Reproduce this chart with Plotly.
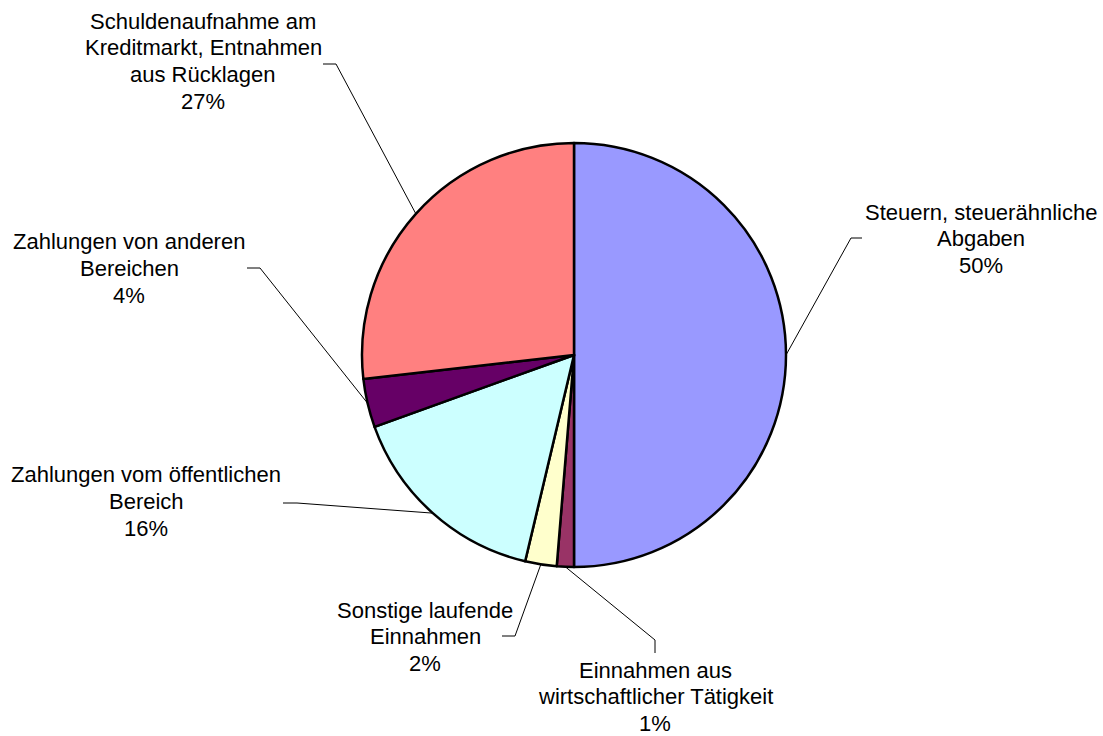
import math
import plotly.graph_objects as go

# slice data, clockwise from 12 o'clock
labels = [
    "Steuern, steuerähnliche Abgaben",
    "Einnahmen aus wirtschaftlicher Tätigkeit",
    "Sonstige laufende Einnahmen",
    "Zahlungen vom öffentlichen Bereich",
    "Zahlungen von anderen Bereichen",
    "Schuldenaufnahme am Kreditmarkt, Entnahmen aus Rücklagen",
]
values = [50.0, 1.3, 2.4, 15.8, 3.7, 26.8]
colors = ["#9999FF", "#993366", "#FFFFCC", "#CCFFFF", "#660066", "#FF8080"]

# how each label is broken into lines
label_lines = [
    ["Steuern, steuerähnliche", "Abgaben"],
    ["Einnahmen aus", "wirtschaftlicher Tätigkeit"],
    ["Sonstige laufende", "Einnahmen"],
    ["Zahlungen vom öffentlichen", "Bereich"],
    ["Zahlungen von anderen", "Bereichen"],
    ["Schuldenaufnahme am", "Kreditmarkt, Entnahmen", "aus Rücklagen"],
]

W, H = 1103, 736
CX, CY, R = 574, 355, 212

# label block placement (px): center x, first line y
label_pos = [(981, 212), (655, 670), (425, 610), (146, 475), (129, 242), (203, 21)]
# leader line: start of the short tick, elbow
leader = [
    [(862, 238), (851, 238)],
    [(655, 653), (655, 640)],
    [(502, 636), (515, 636)],
    [(283, 503), (297, 503)],
    [(247, 268), (260, 268)],
    [(323, 64), (336, 64)],
]
LINE_STEP = 26.8

def px(x):
    return x / W

def py(y):
    return 1 - y / H

fig = go.Figure(go.Pie(
    labels=labels, values=values, sort=False, direction="clockwise", rotation=0,
    marker=dict(colors=colors, line=dict(color="black", width=2.5)),
    textinfo="none", hoverinfo="label+percent", showlegend=False,
    domain=dict(x=[px(CX - R), px(CX + R)], y=[py(CY + R), py(CY - R)]),
))

total = sum(values)
cum = 0
annotations = []
shapes = []
for i, v in enumerate(values):
    mid = (cum + v / 2) / total * 2 * math.pi
    cum += v
    ex = CX + R * math.sin(mid)
    ey = CY - R * math.cos(mid)
    pct = "{:.0f}%".format(v / total * 100)
    lines = label_lines[i] + [pct]
    lx, ly = label_pos[i]
    for k, t in enumerate(lines):
        annotations.append(dict(
            x=px(lx), y=py(ly + k * LINE_STEP), xref="paper", yref="paper",
            text=t, showarrow=False, xanchor="center", yanchor="middle",
            font=dict(family="Liberation Sans, Arial", size=22, color="black"),
        ))
    (x0, y0), (x1, y1) = leader[i]
    path = "M {} {} L {} {} L {} {}".format(px(x0), py(y0), px(x1), py(y1), px(ex), py(ey))
    shapes.append(dict(type="path", path=path, xref="paper", yref="paper",
                       line=dict(color="black", width=1)))

fig.update_layout(
    width=W, height=H, margin=dict(l=0, r=0, t=0, b=0),
    paper_bgcolor="white", plot_bgcolor="white",
    annotations=annotations, shapes=shapes,
)

fig.write_html("out.html", config={"displayModeBar": False},
               post_script="document.body.style.margin='0px';")
